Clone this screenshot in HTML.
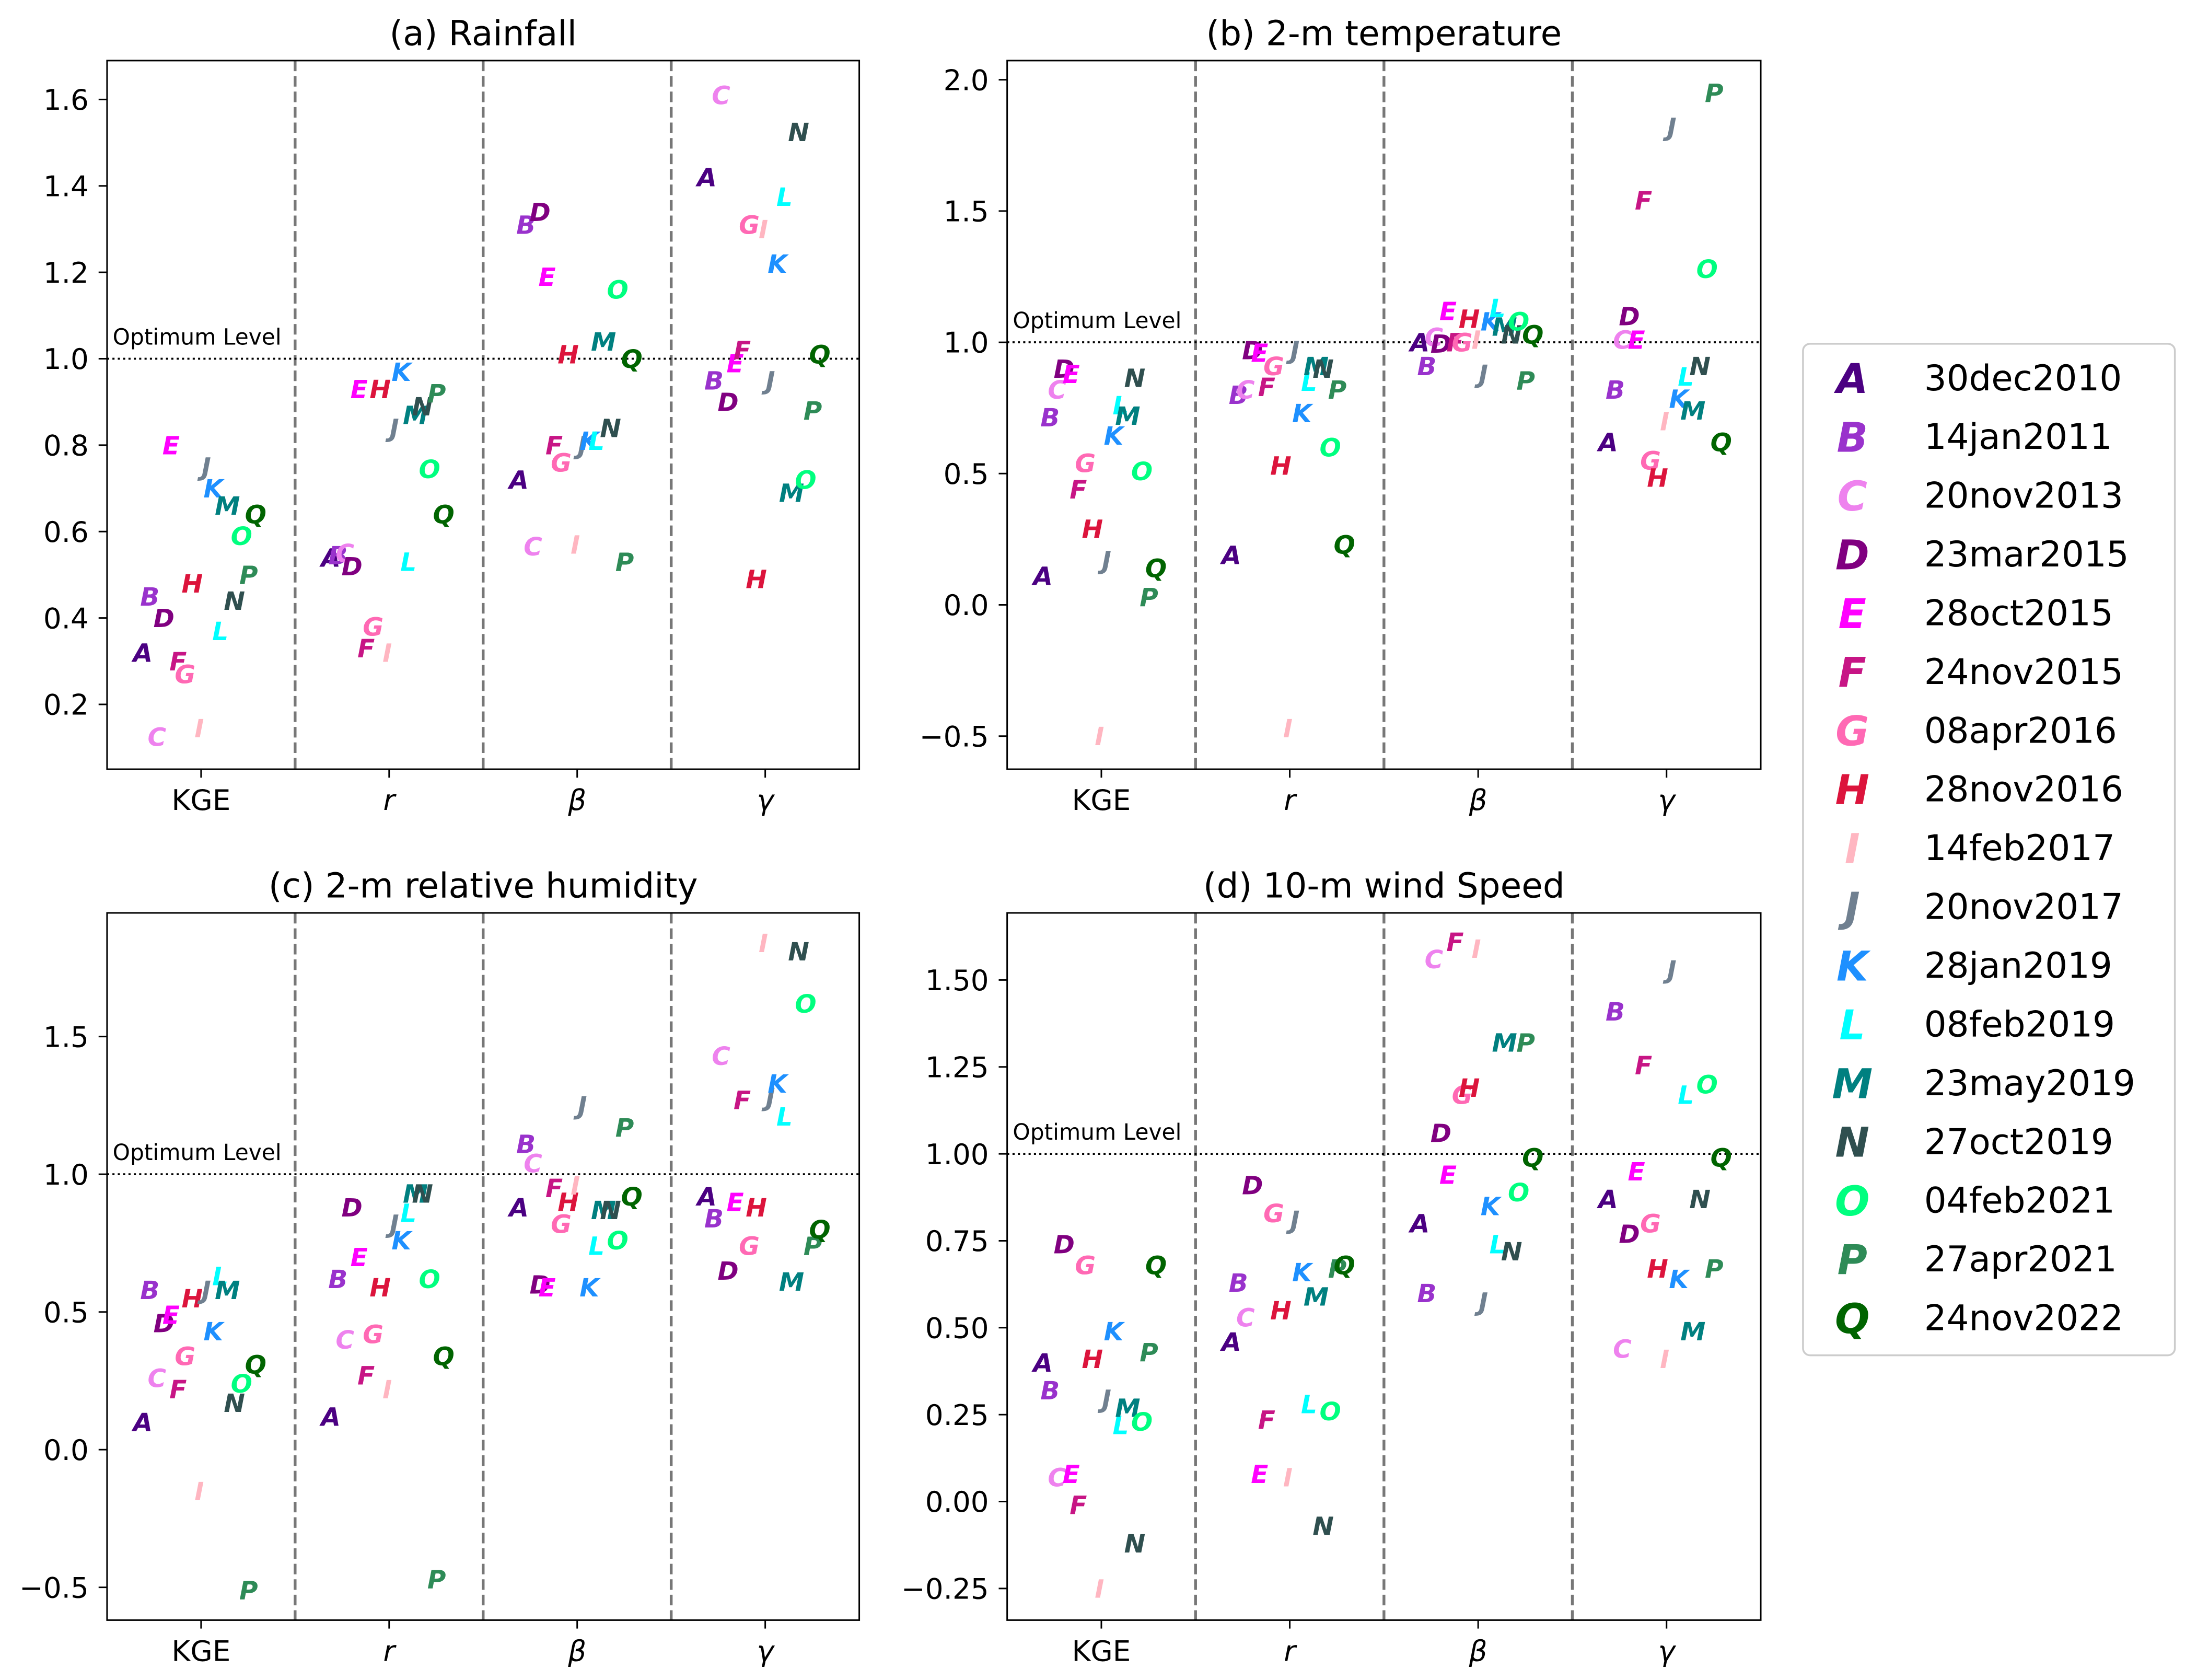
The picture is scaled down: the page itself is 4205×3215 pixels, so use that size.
<!DOCTYPE html>
<html><head><meta charset="utf-8">
<style>
html,body{margin:0;padding:0;background:#fff;}
svg{display:block;font-family:"DejaVu Sans","Liberation Sans",sans-serif;}
</style></head>
<body>
<svg id="fig" width="4205" height="3215" viewBox="0 0 1559.7 1192.5" xmlns="http://www.w3.org/2000/svg">
<rect width="1559.7" height="1192.5" fill="#fff"/>
</svg>
<script>
const letters = ["A","B","C","D","E","F","G","H","I","J","K","L","M","N","O","P","Q"];
const dates = ["30dec2010","14jan2011","20nov2013","23mar2015","28oct2015","24nov2015","08apr2016","28nov2016","14feb2017","20nov2017","28jan2019","08feb2019","23may2019","27oct2019","04feb2021","27apr2021","24nov2022"];
const colors = ["#4B0082","#9932CC","#EE82EE","#800080","#FF00FF","#C71585","#FF69B4","#DC143C","#FFB6C1","#708090","#1E90FF","#00FFFF","#008080","#2F4F4F","#00FF7F","#2E8B57","#006400"];
const categories = ["KGE","r","β","γ"];

const rainKGE = [0.32,0.45,0.125,0.40,0.80,0.30,0.27,0.48,0.145,0.75,0.70,0.37,0.66,0.44,0.59,0.50,0.64];
const rainR   = [0.54,0.545,0.55,0.52,0.93,0.33,0.38,0.93,0.32,0.84,0.97,0.53,0.87,0.89,0.745,0.92,0.64];
const rainB   = [0.72,1.31,0.566,1.34,1.19,0.80,0.76,1.01,0.57,0.80,0.81,0.81,1.04,0.84,1.16,0.53,1.0];
const rainG   = [1.42,0.95,1.61,0.90,0.99,1.02,1.31,0.49,1.30,0.95,1.22,1.375,0.69,1.525,0.72,0.88,1.01];

const tempKGE = [0.11,0.715,0.82,0.90,0.88,0.44,0.54,0.29,-0.50,0.17,0.645,0.76,0.72,0.865,0.51,0.03,0.14];
const tempR   = [0.19,0.80,0.82,0.97,0.96,0.83,0.91,0.53,-0.47,0.97,0.73,0.85,0.91,0.90,0.60,0.82,0.23];
const tempB   = [1.0,0.91,1.02,0.995,1.12,1.0,1.0,1.09,1.01,0.88,1.08,1.13,1.06,1.03,1.08,0.855,1.03];
const tempG   = [0.62,0.82,1.01,1.10,1.01,1.54,0.55,0.485,0.70,1.82,0.785,0.87,0.74,0.91,1.28,1.95,0.62];

const rhKGE = [0.10,0.58,0.26,0.46,0.49,0.22,0.34,0.55,-0.15,0.58,0.43,0.63,0.58,0.17,0.24,-0.51,0.31];
const rhR   = [0.12,0.62,0.40,0.88,0.70,0.27,0.42,0.59,0.22,0.82,0.76,0.86,0.93,0.93,0.62,-0.47,0.34];
const rhB   = [0.88,1.11,1.04,0.60,0.59,0.95,0.82,0.90,0.96,1.25,0.59,0.74,0.87,0.87,0.76,1.17,0.92];
const rhG   = [0.92,0.84,1.43,0.65,0.90,1.27,0.74,0.88,1.84,1.28,1.33,1.21,0.61,1.81,1.62,0.74,0.80];

const wsKGE = [0.40,0.32,0.07,0.74,0.08,-0.01,0.68,0.41,-0.25,0.295,0.49,0.22,0.27,-0.12,0.23,0.43,0.68];
const wsR   = [0.46,0.63,0.53,0.91,0.08,0.235,0.83,0.55,0.07,0.81,0.66,0.28,0.59,-0.07,0.26,0.67,0.68];
const wsB   = [0.80,0.60,1.56,1.06,0.94,1.61,1.17,1.19,1.59,0.575,0.85,0.74,1.32,0.72,0.89,1.32,0.99];
const wsG   = [0.87,1.41,0.44,0.77,0.95,1.255,0.80,0.67,0.41,1.53,0.64,1.17,0.49,0.87,1.20,0.67,0.99];

const ticksA = [0.2,0.4,0.6,0.8,1.0,1.2,1.4,1.6];
const tickLabelsA = ["0.2","0.4","0.6","0.8","1.0","1.2","1.4","1.6"];
const ticksB = [-0.5,0,0.5,1.0,1.5,2.0];
const tickLabelsB = ["−0.5","0.0","0.5","1.0","1.5","2.0"];
const ticksC = [-0.5,0,0.5,1.0,1.5];
const tickLabelsC = ["−0.5","0.0","0.5","1.0","1.5"];
const ticksD = [-0.25,0,0.25,0.5,0.75,1.0,1.25,1.5];
const tickLabelsD = ["−0.25","0.00","0.25","0.50","0.75","1.00","1.25","1.50"];

const NS = "http://www.w3.org/2000/svg";
const svg = document.getElementById("fig");
function mk(tag, attrs, parent){
  const e = document.createElementNS(NS, tag);
  for (const k in attrs) e.setAttribute(k, attrs[k]);
  (parent||svg).appendChild(e);
  return e;
}

const panels = [
  {key:"rainfall", title:"(a) Rainfall", box:[76,43,610,546], ylim:[0.05,1.69], ticks:ticksA, labels:tickLabelsA, series:[rainKGE,rainR,rainB,rainG]},
  {key:"temperature", title:"(b) 2-m temperature", box:[715,43,1250,546], ylim:[-0.626,2.073], ticks:ticksB, labels:tickLabelsB, series:[tempKGE,tempR,tempB,tempG]},
  {key:"humidity", title:"(c) 2-m relative humidity", box:[76,648,610,1150], ylim:[-0.619,1.949], ticks:ticksC, labels:tickLabelsC, series:[rhKGE,rhR,rhB,rhG]},
  {key:"wind", title:"(d) 10-m wind Speed", box:[715,648,1250,1150], ylim:[-0.341,1.693], ticks:ticksD, labels:tickLabelsD, series:[wsKGE,wsR,wsB,wsG]}
];

panels.forEach(p=>{
  const [x0,y0,x1,y1] = p.box;
  const g = mk("g",{});
  
  
  const xs = v => x0 + (v + 0.5) / 4 * (x1 - x0);
  const ys = v => y1 - (v - p.ylim[0]) / (p.ylim[1] - p.ylim[0]) * (y1 - y0);

  const t = mk("text",{x:(x0+x1)/2, y:y0-11, "text-anchor":"middle", "font-size":24.5, fill:"#000"}, g);
  t.textContent = p.title;
  
  

  [0.5,1.5,2.5].forEach(v=>{
    const l = mk("line",{x1:xs(v),x2:xs(v),y1:y0,y2:y1,stroke:"#777","stroke-width":2,"stroke-dasharray":"7.5,3.5"}, g);
    
    
  });
  const ol = mk("line",{x1:x0,x2:x1,y1:ys(1),y2:ys(1),stroke:"#000","stroke-width":1.4,"stroke-dasharray":"1.5,2.3"}, g);
  
  
  const ot = mk("text",{x:x0+4, y:ys(1)-10, "font-size":15.7, fill:"#000"}, g);
  ot.textContent = "Optimum Level";
  
  

  p.ticks.forEach((v,i)=>{
    mk("line",{x1:x0-6,x2:x0,y1:ys(v),y2:ys(v),stroke:"#000","stroke-width":1.1}, g);
    const tl = mk("text",{x:x0-13, y:ys(v)+7.3, "text-anchor":"end", "font-size":20.3, fill:"#000"}, g);
    tl.textContent = p.labels[i];
    
    
  });
  categories.forEach((c,i)=>{
    mk("line",{x1:xs(i),x2:xs(i),y1:y1,y2:y1+6,stroke:"#000","stroke-width":1.1}, g);
    const tl = mk("text",{x:xs(i), y:y1+29, "text-anchor":"middle", "font-size":20.3, fill:"#000", "font-style": i===0?"normal":"italic"}, g);
    tl.textContent = c;
    
    
  });

  p.series.forEach((arr,ci)=>{
    arr.forEach((v,li)=>{
      const off = -0.31 + li * 0.6 / 16;
      const m = mk("text",{x:xs(ci+off), y:ys(v)+6.5, "text-anchor":"middle", "font-size":18, "font-weight":"bold", "font-style":"italic", fill:colors[li]}, g);
      m.textContent = letters[li];
      
      
    });
  });

  const fr = mk("rect",{x:x0,y:y0,width:x1-x0,height:y1-y0,fill:"none",stroke:"#000","stroke-width":1.1}, g);
  
  
});

const lg = mk("g",{});


const lr = mk("rect",{x:1280,y:244,width:264,height:718,rx:5,fill:"#fff",stroke:"#ccc","stroke-width":1.3}, lg);


letters.forEach((L,i)=>{
  const y = 268 + i * 41.7;
  const e = mk("g",{}, lg);
  
  
  const m = mk("text",{x:1315, y:y+11, "text-anchor":"middle", "font-size":29, "font-weight":"bold", "font-style":"italic", fill:colors[i]}, e);
  m.textContent = L;
  const t = mk("text",{x:1366, y:y+9, "font-size":25, fill:"#000"}, e);
  t.textContent = dates[i];
});
</script>
</body></html>
